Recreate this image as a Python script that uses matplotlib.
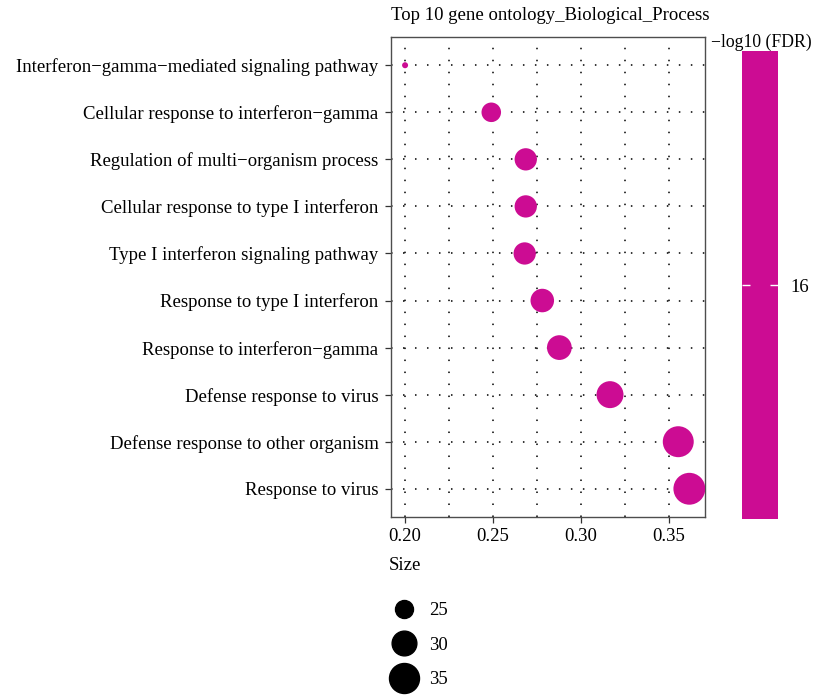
import numpy as np
import matplotlib.pyplot as plt
from matplotlib.colors import LinearSegmentedColormap
from matplotlib.lines import Line2D

plt.rcParams['font.family'] = ['Liberation Serif', 'DejaVu Serif']

terms = [
    "Interferon\u2212gamma\u2212mediated signaling pathway",
    "Cellular response to interferon\u2212gamma",
    "Regulation of multi\u2212organism process",
    "Cellular response to type I interferon",
    "Type I interferon signaling pathway",
    "Response to type I interferon",
    "Response to interferon\u2212gamma",
    "Defense response to virus",
    "Defense response to other organism",
    "Response to virus",
]
rich_factor = [0.200, 0.249, 0.2686, 0.2686, 0.268, 0.278, 0.2877, 0.3165, 0.3553, 0.3616]
gene_count = [20, 26, 28, 28, 28, 29, 30, 32, 36, 37]
neg_log10_fdr = [15.52, 15.90, 16.10, 16.00, 16.20, 15.80, 16.30, 16.48, 16.05, 15.70]

legend_sizes = [25, 30, 35]
x_ticks = [0.20, 0.25, 0.30, 0.35]
cbar_ticks = [16]

point_color = "#CC0C93"
fs = 13.5


def marker_diam_pt(count):
    # area grows linearly with the count, diameter returned in points
    px = np.sqrt(324 + 57.6 * (np.asarray(count, dtype=float) - 25))
    return px * 0.72


fig = plt.figure(figsize=(8.16, 6.95), dpi=100)
ax = fig.add_axes([391 / 816, 1 - 517 / 695, 314 / 816, 480 / 695])

ypos = np.arange(len(terms))
dotted = (0, (1.0, 6.85))
for xv in np.arange(0.20, 0.3501, 0.025):
    ax.axvline(xv, color="black", lw=1.1, ls=dotted, zorder=0)
for yv in ypos:
    ax.axhline(yv, color="black", lw=1.1, ls=dotted, zorder=0)

cmap = LinearSegmentedColormap.from_list("fdr", [point_color, point_color])
sc = ax.scatter(rich_factor, ypos, s=marker_diam_pt(gene_count) ** 2,
                c=neg_log10_fdr, cmap=cmap,
                vmin=min(neg_log10_fdr), vmax=max(neg_log10_fdr),
                edgecolors="none", zorder=3)

ax.set_xlim(0.192, 0.3705)
ax.set_ylim(len(terms) - 0.4, -0.6)
ax.set_xticks(x_ticks)
ax.set_xticklabels([f"{v:.2f}" for v in x_ticks])
ax.set_yticks(ypos)
ax.set_yticklabels(terms)
ax.tick_params(axis="both", labelsize=fs, length=4, width=0.9,
               color="#333333", pad=4)
ax.tick_params(axis="y", pad=5)
for sp in ax.spines.values():
    sp.set_color("#4d4d4d")
    sp.set_linewidth(1.0)

fig.text(391 / 816, 1 - 16 / 695, "Top 10 gene ontology_Biological_Process",
         fontsize=fs, ha="left", va="center")

# colour bar
cax = fig.add_axes([742 / 816, 1 - 519 / 695, 36 / 816, 468 / 695])
cbar = fig.colorbar(sc, cax=cax, ticks=cbar_ticks)
cbar.outline.set_visible(False)
cax.tick_params(direction="in", left=True, right=True, color="white",
                length=6, width=1, labelsize=fs, pad=9)
fig.text(711 / 816, 1 - 42 / 695, "\u2212log10 (FDR)", fontsize=12.7,
         ha="left", va="center")

# size legend
fig.text(389 / 816, 1 - 565 / 695, "Size", fontsize=fs, ha="left", va="center")
handles = [Line2D([], [], ls="none", marker="o", color="black",
                  markersize=marker_diam_pt(v)) for v in legend_sizes]
leg = fig.legend(handles, [str(v) for v in legend_sizes],
                 loc="upper left", bbox_to_anchor=(390 / 816, 1 - 602 / 695),
                 frameon=False, fontsize=fs, labelspacing=0.93,
                 handlelength=1.5, handletextpad=0.58,
                 borderaxespad=0, borderpad=0)

fig.savefig("out.png", dpi=100)
